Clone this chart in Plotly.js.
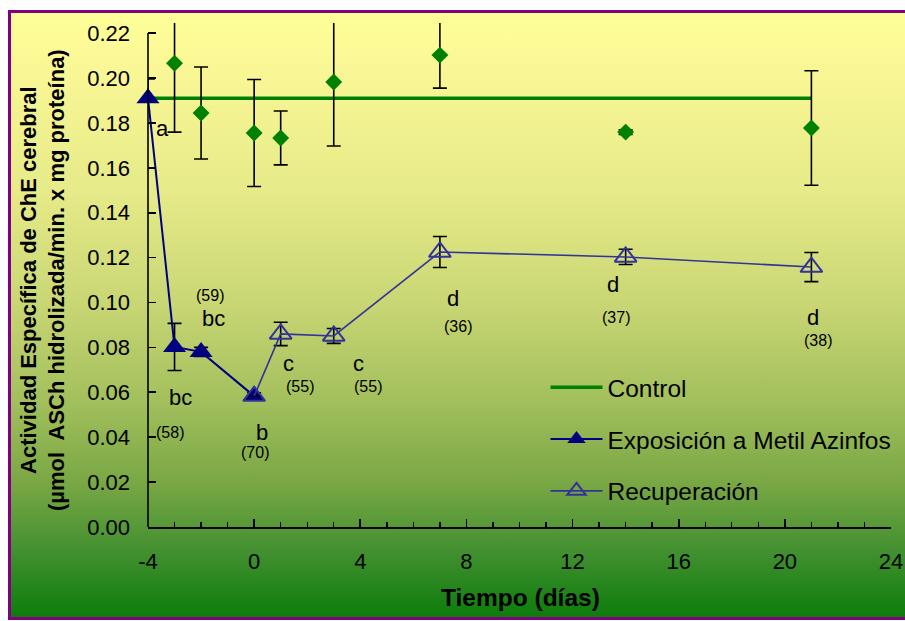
<!DOCTYPE html>
<html>
<head>
<meta charset="utf-8">
<script src="https://cdn.plot.ly/plotly-3.0.1.min.js"></script>
<style>
  html, body { margin:0; padding:0; width:905px; height:621px; overflow:hidden; background:#ffffff; }
  #bg { position:absolute; left:8px; top:10px; width:920px; height:604px;
        border:3px solid #800080;
        background: linear-gradient(to bottom, #FFFF99 0%, #F7F594 12%, #E6EA88 30%, #C9D674 48%, #A3C05D 64%, #78A744 78%, #439030 89%, #0C7D0C 100%); }
  #chart { position:absolute; left:0; top:0; width:905px; height:621px; }
</style>
</head>
<body>
<div id="bg"></div>
<div id="chart"></div>
<script>
// ---- data ----
const controlDays = [-4, -3, -2, 0, 1, 3, 7, 14, 21];
const controlMean = [0.191, 0.191, 0.191, 0.191, 0.191, 0.191, 0.191, 0.191, 0.191];

const controlObsDays = [-3, -2, 0, 1, 3, 7, 14, 21];
const controlObs = [0.2066, 0.1844, 0.1755, 0.1733, 0.1982, 0.2102, 0.1759, 0.1777];
const controlErr = [0.0307, 0.0205, 0.0238, 0.0120, 0.0285, 0.0147, 0.0010, 0.0255];

const expDays = [-4, -3, -2, 0];
const expVals = [0.191, 0.0802, 0.0780, 0.0583];
const expErrPlus = [0.0086, 0.0105, 0.0020, 0.0015];
const expErrMinus = [0, 0.0105, 0.0020, 0.0015];

const recDays = [0, 1, 3, 7, 14, 21];
const recVals = [0.0583, 0.0860, 0.0851, 0.1225, 0.1203, 0.1158];
const recErr = [0, 0.0052, 0.0033, 0.0069, 0.0034, 0.0065];

const sigLetters = ['a', 'bc', 'bc', 'b', 'c', 'c', 'd', 'd', 'd'];
const inhibition = ['', '(58)', '(59)', '(70)', '(55)', '(55)', '(36)', '(37)', '(38)'];

const xTickVals = [-4, 0, 4, 8, 12, 16, 20, 24];

// ---- label placement (layout only) ----
const letterX = [-3.47, -2.79, -1.55, 0.28, 1.31, 3.95, 7.49, 13.52, 21.06];
const letterY = [0.1773, 0.0575, 0.0927, 0.0423, 0.0730, 0.0730, 0.1020, 0.1078, 0.0931];
const nX = [0, -3.17, -1.66, 0.03, 1.73, 4.29, 7.68, 13.63, 21.24];
const nY = [0, 0.0423, 0.1029, 0.0334, 0.0628, 0.0628, 0.0895, 0.0931, 0.0829];

const FONT = 'Liberation Sans, Arial, sans-serif';

const errStyle = {color: '#000000', thickness: 1.6, width: 7};

const traces = [
  {
    x: controlDays, y: controlMean, type: 'scatter', mode: 'lines',
    name: 'Control', legendgroup: 'g1',
    line: {color: '#008000', width: 3.5}
  },
  {
    x: controlObsDays, y: controlObs, type: 'scatter', mode: 'markers',
    name: 'Control obs', showlegend: false,
    marker: {symbol: 'diamond', size: 13, color: '#008000'},
    error_y: Object.assign({type: 'data', array: controlErr, visible: true}, errStyle)
  },
  {
    x: expDays, y: expVals, type: 'scatter', mode: 'lines+markers',
    name: 'Exposición a Metil Azinfos', legendgroup: 'g2', cliponaxis: false,
    line: {color: '#000080', width: 2},
    marker: {symbol: 'triangle-up', size: 20, color: '#000080'},
    error_y: Object.assign({type: 'data', symmetric: false, array: expErrPlus, arrayminus: expErrMinus, visible: true}, errStyle)
  },
  {
    x: recDays, y: recVals, type: 'scatter', mode: 'lines+markers',
    name: 'Recuperación', legendgroup: 'g3',
    line: {color: '#333399', width: 1.6},
    marker: {symbol: 'triangle-up-open', size: 19, color: '#333399', line: {width: 2, color: '#333399'}},
    error_y: Object.assign({type: 'data', array: recErr, visible: true}, errStyle)
  }
];

const annotations = [];
sigLetters.forEach((t, i) => {
  annotations.push({x: letterX[i], y: letterY[i], xref: 'x', yref: 'y', text: t, showarrow: false,
    xanchor: 'center', yanchor: 'middle', font: {family: FONT, size: 22, color: '#000'}});
  if (inhibition[i]) {
    annotations.push({x: nX[i], y: nY[i], xref: 'x', yref: 'y', text: inhibition[i], showarrow: false,
      xanchor: 'center', yanchor: 'middle', font: {family: FONT, size: 16, color: '#000'}});
  }
});
annotations.push({
  xref: 'paper', yref: 'paper', x: -0.1414, y: 0.49, xanchor: 'center', yanchor: 'middle',
  textangle: -90, showarrow: false,
  text: '<b>Actividad Específica de ChE cerebral</b><br><b>(µmol  ASCh hidrolizada/min. x mg proteína)</b>',
  font: {family: FONT, size: 22, color: '#000'}
});
annotations.push({
  xref: 'paper', yref: 'paper', x: 0.502, y: -0.139, xanchor: 'center', yanchor: 'middle',
  showarrow: false, text: '<b>Tiempo (días)</b>',
  font: {family: FONT, size: 24.5, color: '#000'}
});

const layout = {
  width: 905, height: 621,
  margin: {l: 148, r: 14, t: 23, b: 94, pad: 0, autoexpand: false},
  paper_bgcolor: 'rgba(0,0,0,0)', plot_bgcolor: 'rgba(0,0,0,0)',
  font: {family: FONT, color: '#000'},
  showlegend: true,
  legend: {
    x: 0.535, y: 0.322, xanchor: 'left', yanchor: 'top',
    bgcolor: 'rgba(0,0,0,0)', borderwidth: 0,
    font: {family: FONT, size: 24.5, color: '#000'},
    traceorder: 'grouped', tracegroupgap: 17, itemwidth: 52
  },
  xaxis: {
    range: [-4, 24], tickvals: xTickVals, ticktext: xTickVals.map(String),
    showline: true, linecolor: '#000', linewidth: 1.6,
    ticks: 'inside', ticklen: 8, tickwidth: 1.6, tickcolor: '#000',
    minor: {dtick: 1, tick0: 0, ticks: 'inside', ticklen: 5, tickwidth: 1.4, tickcolor: '#000', showgrid: false},
    showgrid: false, zeroline: false,
    tickfont: {family: FONT, size: 22, color: '#000'},
    ticklabelstandoff: 14
  },
  yaxis: {
    range: [0, 0.2245], tick0: 0, dtick: 0.02, tickformat: '.2f',
    showline: false,
    ticks: 'inside', ticklen: 8, tickwidth: 1.6, tickcolor: '#000',
    showgrid: false, zeroline: false,
    tickfont: {family: FONT, size: 22, color: '#000'},
    ticklabelstandoff: 17
  },
  shapes: [
    {type: 'line', xref: 'paper', yref: 'y', x0: 0, x1: 0, y0: 0, y1: 0.22,
     line: {color: '#000', width: 1.6}}
  ],
  annotations: annotations
};

Plotly.newPlot('chart', traces, layout, {displayModeBar: false, staticPlot: true});
</script>
</body>
</html>
